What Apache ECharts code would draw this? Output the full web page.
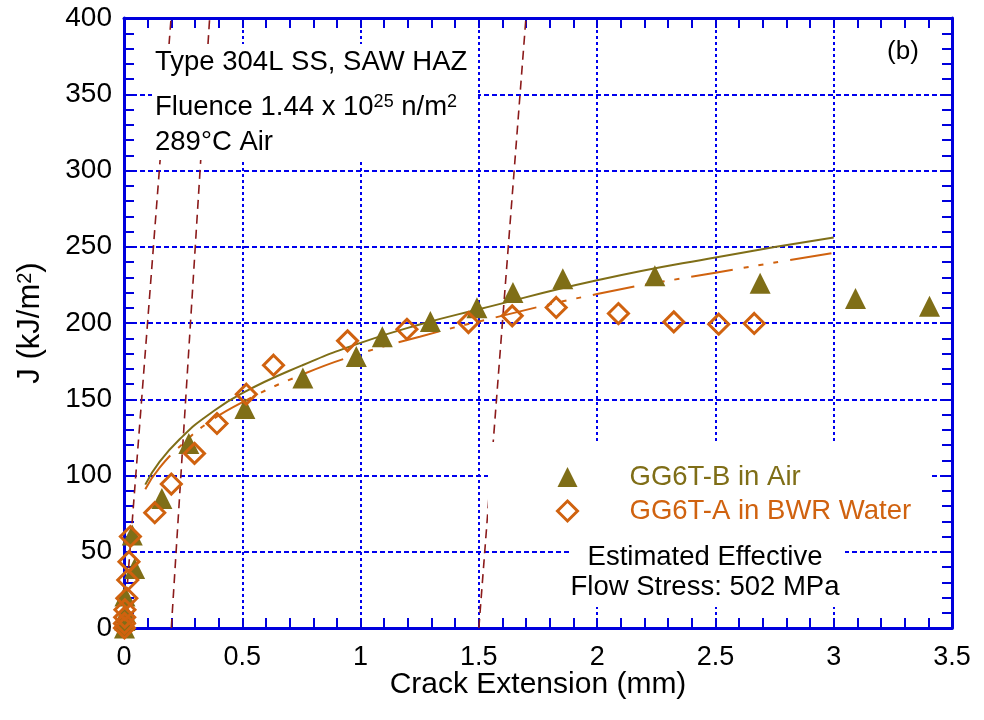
<!DOCTYPE html>
<html><head><meta charset="utf-8">
<script src="https://cdn.jsdelivr.net/npm/echarts@6/dist/echarts.min.js"></script>
<style>html,body{margin:0;padding:0;background:#fff}#c{width:984px;height:720px}</style>
</head><body><div id="c"></div>
<script>
// GG6T-B in Air (triangles)
const airDa = [0.002,0.004,0.006,0.004,0.045,0.035,0.16,0.274,0.511,0.756,0.982,1.092,1.295,1.492,1.644,1.855,2.244,2.689,3.092,3.405];
const airJ  = [0,5,10,21,39,61,85,121,144,164,178,191,201,210,220,229,231,226,216,211];
// GG6T-A in BWR Water (diamonds)
const waterDa = [0.002,0.002,0.003,0.004,0.012,0.016,0.021,0.027,0.13,0.2,0.298,0.393,0.517,0.632,0.945,1.196,1.456,1.641,1.827,2.09,2.324,2.514,2.664];
const waterJ  = [0,3,7,12,19.5,31.5,43.5,60,75.6,94.4,114.5,134.1,153.3,172.3,188.3,195.9,200.3,204.7,210.2,206.2,200.7,199.2,199.7];
// fitted J-R curves
const airFitDa = [0.09,0.15,0.25,0.35,0.5,0.75,1,1.25,1.5,2,2.5,3];
const airFitJ  = [94,109,126,139,154,172,187,199,209,228,243,256];
const waterFitDa = [0.09,0.15,0.25,0.35,0.5,0.75,1,1.25,1.5,2,2.5,3];
const waterFitJ  = [91,105,121,134,148,166,180,191,201,219,233,246];
// blunting / offset lines
const bluntDa = [0,0.199];     const bluntJ = [0,400];
const offset02Da = [0.2,0.362]; const offset02J = [0,400];
const offset15Da = [1.5,1.699]; const offset15J = [0,400];

const FONT = '"Liberation Sans", Arial, Helvetica, sans-serif';
const AXIS = '#0000dd';
const GRIDC = '#0000ee';
const OLIVE = '#7f6e17';
const ORANGE = '#d0620f';
const RED = '#8b1a1a';

const pairs = (xs, ys) => xs.map((x, i) => [x, ys[i]]);

const chart = echarts.init(document.getElementById('c'), null, {renderer: 'canvas'});

function mkX(pos, main) {
  return {
    type: 'value', position: pos, min: 0, max: 3.5, interval: 0.5,
    axisLine: {show: true, onZero: false, lineStyle: {color: AXIS, width: 3}},
    axisTick: {show: true, inside: true, length: 10, lineStyle: {color: AXIS, width: 2}},
    minorTick: {show: true, splitNumber: 5, length: 10, lineStyle: {color: AXIS, width: 2}},
    splitLine: {show: main, lineStyle: {color: GRIDC, width: 2, type: [3, 3]}},
    axisLabel: {show: main, color: '#000', fontSize: 27, fontFamily: FONT, margin: 16},
    name: main ? 'Crack Extension (mm)' : '', nameLocation: 'middle', nameGap: 42,
    nameMoveOverlap: false,
    nameTextStyle: {color: '#000', fontSize: 30, fontFamily: FONT}
  };
}
function mkY(pos, main) {
  return {
    type: 'value', position: pos, min: 0, max: 400, interval: 50,
    axisLine: {show: true, onZero: false, lineStyle: {color: AXIS, width: 3}},
    axisTick: {show: true, inside: true, length: 10, lineStyle: {color: AXIS, width: 2}},
    minorTick: {show: true, splitNumber: 5, length: 10, lineStyle: {color: AXIS, width: 2}},
    splitLine: {show: main, lineStyle: {color: GRIDC, width: 2, type: [5, 3]}},
    axisLabel: {show: main, color: '#000', fontSize: 28, fontFamily: FONT, margin: 12},
    name: main ? 'J (kJ/m{sup|2})' : '', nameLocation: 'middle', nameGap: 78,
    nameMoveOverlap: false,
    nameTextStyle: {color: '#000', fontSize: 31, fontFamily: FONT,
      rich: {sup: {fontSize: 20, fontFamily: FONT, verticalAlign: 'top', color: '#000'}}}
  };
}

const option = {
  backgroundColor: '#fff',
  animation: false,
  grid: {left: 124, right: 32, top: 18, bottom: 92},
  xAxis: [mkX('bottom', true), mkX('top', false)],
  yAxis: [mkY('left', true), mkY('right', false)],
  legend: {
    left: 488, top: 442, orient: 'vertical', selectedMode: false,
    backgroundColor: '#fff', padding: [20, 20, 12, 68],
    itemWidth: 20, itemHeight: 20, itemGap: 4,
    textStyle: {fontSize: 27.5, fontFamily: FONT, lineHeight: 30, padding: [0, 0, 0, 47]},
    data: [
      {name: 'GG6T-B in Air', icon: 'triangle', itemStyle: {color: OLIVE, opacity: 1}, textStyle: {color: OLIVE}},
      {name: 'GG6T-A in BWR Water', icon: 'diamond',
        itemStyle: {color: 'rgba(255,255,255,0)', borderColor: ORANGE, borderWidth: 3, opacity: 1},
        textStyle: {color: ORANGE}}
    ]
  },
  series: [
    {name: 'blunt', type: 'line', data: pairs(bluntDa, bluntJ), showSymbol: false, z: 1,
      lineStyle: {color: RED, width: 1.6, type: [9, 6]}},
    {name: 'offset02', type: 'line', data: pairs(offset02Da, offset02J), showSymbol: false, z: 1,
      lineStyle: {color: RED, width: 1.6, type: [9, 6]}},
    {name: 'offset15', type: 'line', data: pairs(offset15Da, offset15J), showSymbol: false, z: 1,
      lineStyle: {color: RED, width: 1.6, type: [9, 6]}},
    {name: 'airFit', type: 'line', data: pairs(airFitDa, airFitJ), showSymbol: false, smooth: true, z: 2,
      lineStyle: {color: OLIVE, width: 2}},
    {name: 'waterFit', type: 'line', data: pairs(waterFitDa, waterFitJ), showSymbol: false, smooth: true, z: 2,
      lineStyle: {color: ORANGE, width: 2, type: [42, 11, 5, 10, 5, 10, 5, 12]}},
    {name: 'GG6T-B in Air', type: 'scatter', data: pairs(airDa, airJ), symbol: 'triangle', symbolSize: 21, z: 3,
      itemStyle: {color: OLIVE, opacity: 1}},
    {name: 'GG6T-A in BWR Water', type: 'scatter', data: pairs(waterDa, waterJ), symbol: 'diamond', symbolSize: 20, z: 4,
      itemStyle: {color: 'rgba(255,255,255,0)', borderColor: ORANGE, borderWidth: 3, opacity: 1}}
  ],
  graphic: [
    {type: 'rect', shape: {x: 152, y: 44, width: 326, height: 116}, style: {fill: '#fff'}, z: 100},
    {type: 'text', x: 155, y: 62, z: 101, style: {text: 'Type 304L SS, SAW HAZ', fontSize: 27.5, fontFamily: FONT, fill: '#000', verticalAlign: 'middle'}},
    {type: 'text', x: 155, y: 107, z: 101, style: {text: 'Fluence 1.44 x 10{sup|25} n/m{sup|2}', fontSize: 27.5, fontFamily: FONT, fill: '#000', verticalAlign: 'middle',
      rich: {sup: {fontSize: 18, fontFamily: FONT, fill: '#000', verticalAlign: 'top'}}}},
    {type: 'text', x: 155, y: 142, z: 101, style: {text: '289°C Air', fontSize: 27.5, fontFamily: FONT, fill: '#000', verticalAlign: 'middle'}},
    {type: 'text', x: 903, y: 52, z: 101, style: {text: '(b)', fontSize: 26, fontFamily: FONT, fill: '#000', align: 'center', verticalAlign: 'middle'}},
    {type: 'rect', shape: {x: 570, y: 540, width: 275, height: 67}, style: {fill: '#fff'}, z: 100},
    {type: 'text', x: 705, y: 572, z: 101, style: {text: 'Estimated Effective\nFlow Stress: 502 MPa', fontSize: 27.5, fontFamily: FONT, fill: '#000', align: 'center', verticalAlign: 'middle', lineHeight: 30}}
  ]
};
chart.setOption(option);
</script>
</body></html>
